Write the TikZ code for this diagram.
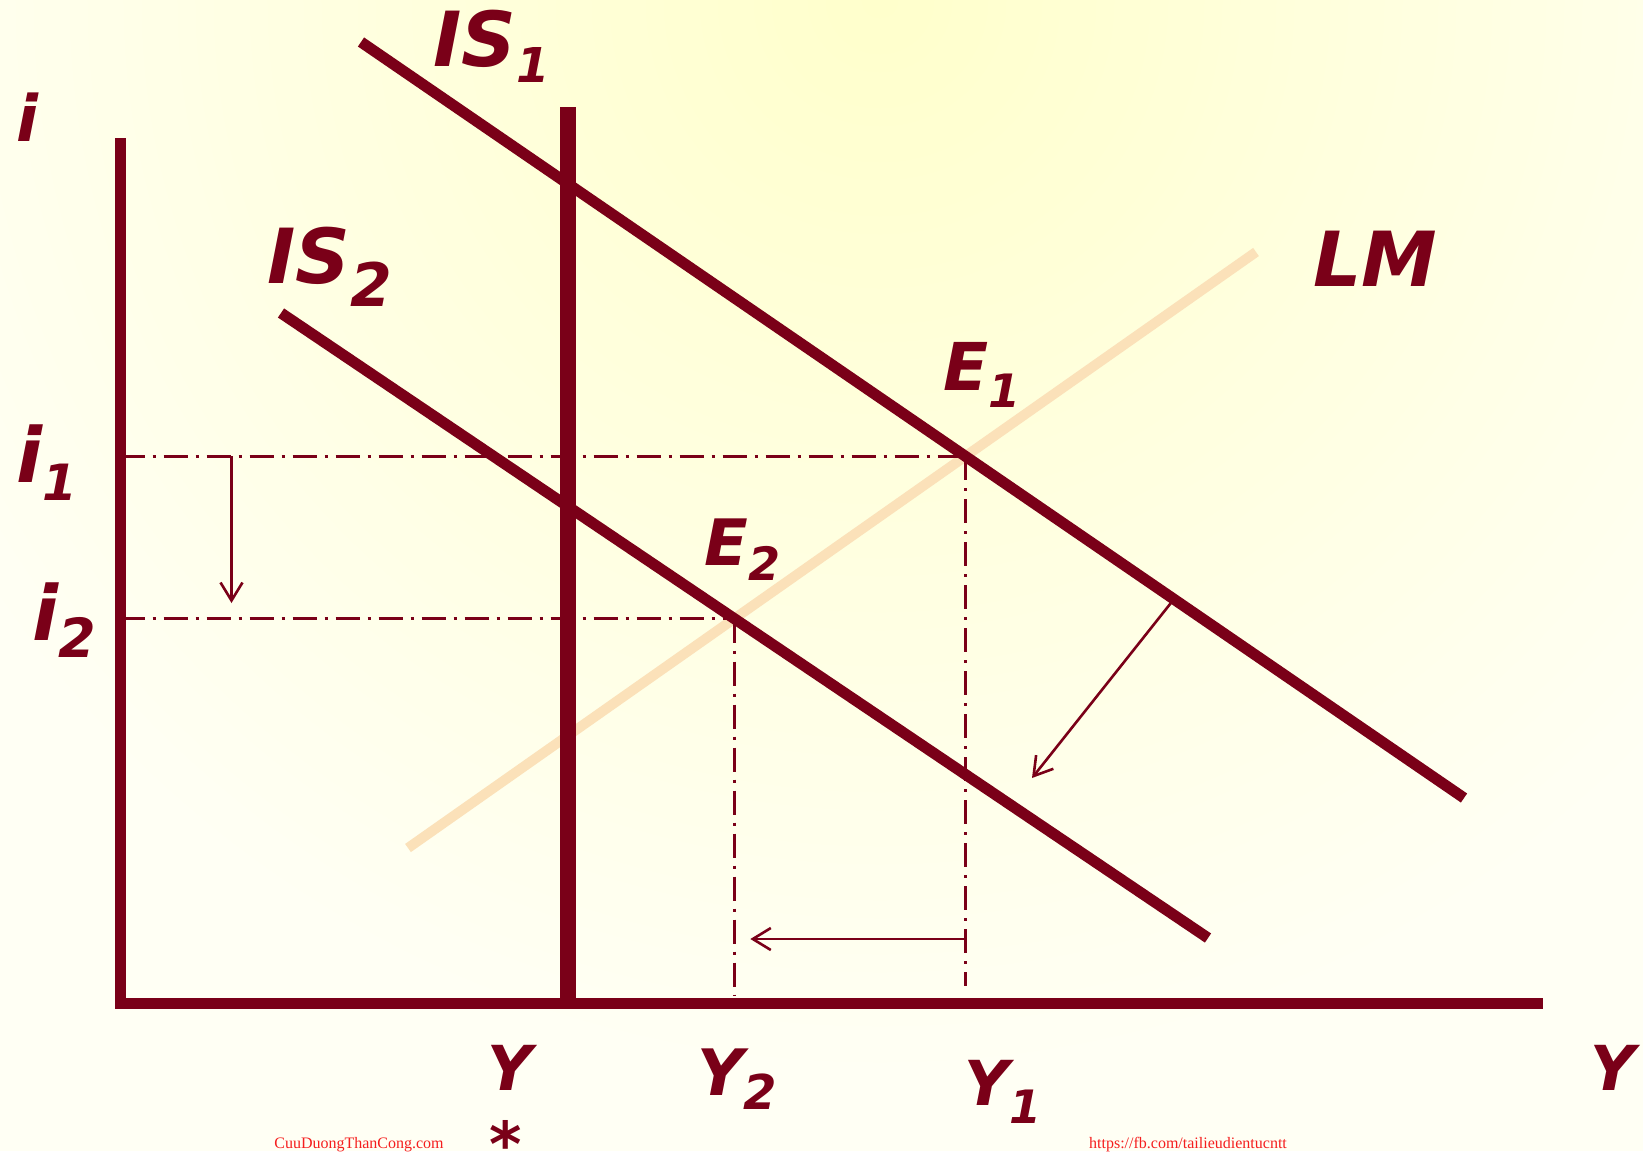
\documentclass[tikz,border=0pt]{standalone}
\usepackage{fontspec}
\setmainfont{DejaVu Sans}
\newfontfamily\footfont{Liberation Serif}
\usetikzlibrary{arrows.meta,calc}
\definecolor{ismaroon}{RGB}{122,0,24}
\definecolor{lmpeach}{RGB}{251,225,185}
\definecolor{bgin}{RGB}{255,255,204}
\definecolor{bgout}{RGB}{255,255,244}
\definecolor{footred}{RGB}{245,30,30}
\newcommand\lsize[1]{\fontsize{#1}{#1}\selectfont}
\newcommand\lowsub[3]{\lower#1\hbox{\lsize{#2}#3}}
\begin{document}
\begin{tikzpicture}[x=0.5pt,y=-0.5pt,
  axisline/.style={draw=ismaroon,line width=5.5pt},
  ystarline/.style={draw=ismaroon,line width=8pt},
  isline/.style={draw=ismaroon,line width=5.5pt},
  lmline/.style={draw=lmpeach,line width=5pt},
  dashdot/.style={draw=ismaroon,line width=1.4pt,dash pattern=on 12pt off 4pt on 1.5pt off 4pt},
  shiftarrow/.style={draw=ismaroon,line width=1.3pt,-{Straight Barb[length=9pt,width=11pt]}},
  lbl/.style={inner sep=0pt,anchor=base west,text=ismaroon},
  foot/.style={inner sep=0pt,anchor=base,text=footred,font=\footfont\lsize{8}}]
\useasboundingbox (0,0) rectangle (1643,1151);
\fill[bgout] (0,0) rectangle (1643,1151);
\begin{scope}
  \clip (0,0) rectangle (1643,1151);
  \foreach \k in {0,...,59}{
    \pgfmathsetmacro\rr{1080*(1-\k/60)}
    \pgfmathsetmacro\pp{100*\k/59}
    \fill[bgin!\pp!bgout] (880,0) circle (\rr);
  }
\end{scope}

% key points
\coordinate (IS1a) at (361,42);
\coordinate (IS1b) at (1464,798);
\coordinate (IS2a) at (281,313);
\coordinate (IS2b) at (1208,938);
\coordinate (LMa) at (408,848);
\coordinate (LMb) at (1256,252);
\coordinate (E1) at (intersection of IS1a--IS1b and LMa--LMb);
\coordinate (E2) at (intersection of IS2a--IS2b and LMa--LMb);
\coordinate (ytop) at (120.5,138);
\coordinate (ybot) at (120.5,1008.5);
\coordinate (xa) at (115,1003);
\coordinate (xend) at (1543,1003);
\coordinate (Ysa) at (568,107);
\coordinate (Ysb) at (568,1000);

% LM curve
\draw[lmline] (LMa) -- (LMb);

% dash-dot guides
\draw[dashdot] (E1 -| ytop) -- (E1);
\draw[dashdot] (E2 -| ytop) -- (E2);
\coordinate (Y1bot) at (E1 |- 0,986);
\coordinate (Y2bot) at (E2 |- 0,995);
\draw[dashdot] (E1) -- (Y1bot);
\draw[dashdot] (E2) -- (Y2bot);

% IS curves
\draw[isline] (IS1a) -- (IS1b);
\draw[isline] (IS2a) -- (IS2b);

% potential output and axes
\draw[ystarline] (Ysa) -- (Ysb);
\draw[axisline] (ybot) -- (ytop);
\draw[axisline] (xa) -- (xend);

% shift arrows
\coordinate (da1) at (231.5,0 |- E1);
\coordinate (da2) at (231.5,603);
\draw[shiftarrow] (da1) -- (da2);
\coordinate (la1) at (E1 |- 0,939);
\coordinate (la2) at ($(E2 |- 0,939)+(16,0)$);
\draw[shiftarrow] (la1) -- (la2);
\coordinate (d1) at ($(IS1a)!0.737!(IS1b)$);
\coordinate (d2) at (1032,778);
\draw[shiftarrow] (d1) -- (d2);

% labels
\node[lbl,font=\bfseries\itshape\lsize{32}] (ilab) at (16,141) {i};
\node[lbl,font=\bfseries\itshape\lsize{38}] (IS1lab) at (433,66) {IS\lowsub{8pt}{24}{1}};
\node[lbl,font=\bfseries\itshape\lsize{38}] (IS2lab) at (267,283) {IS\lowsub{11.5pt}{30}{2}};
\node[lbl,font=\bfseries\itshape\lsize{38}] (LMlab) at (1313,286) {LM};
\node[lbl,font=\bfseries\itshape\lsize{33}] (E1lab) at (943,390) {E\lowsub{8.5pt}{23}{1}};
\node[lbl,font=\bfseries\itshape\lsize{32}] (E2lab) at (704,565) {E\lowsub{7.5pt}{23}{2}};
\node[lbl,font=\bfseries\itshape\lsize{38}] (i1lab) at (16,482) {i\lowsub{9pt}{25}{1}};
\node[lbl,font=\bfseries\itshape\lsize{38}] (i2lab) at (32,640) {i\lowsub{8.5pt}{27}{2}};
\node[lbl,font=\bfseries\itshape\lsize{31}] (Ystlab) at (487,1090) {Y};
\node[inner sep=0pt,anchor=north,text=ismaroon,font=\bfseries\itshape\lsize{31}] (starlab) at (506,1120) {*};
\node[lbl,font=\bfseries\itshape\lsize{32}] (Y2lab) at (697,1095) {Y\lowsub{7pt}{24}{2}};
\node[lbl,font=\bfseries\itshape\lsize{31}] (Y1lab) at (964,1105) {Y\lowsub{9pt}{23}{1}};
\node[lbl,font=\bfseries\itshape\lsize{31}] (Ylab) at (1590,1090) {Y};

% footer
\node[foot] (f1) at (359,1148) {CuuDuongThanCong.com};
\node[foot] (f2) at (1188,1148) {https://fb.com/tailieudientucntt};
\end{tikzpicture}
\end{document}
